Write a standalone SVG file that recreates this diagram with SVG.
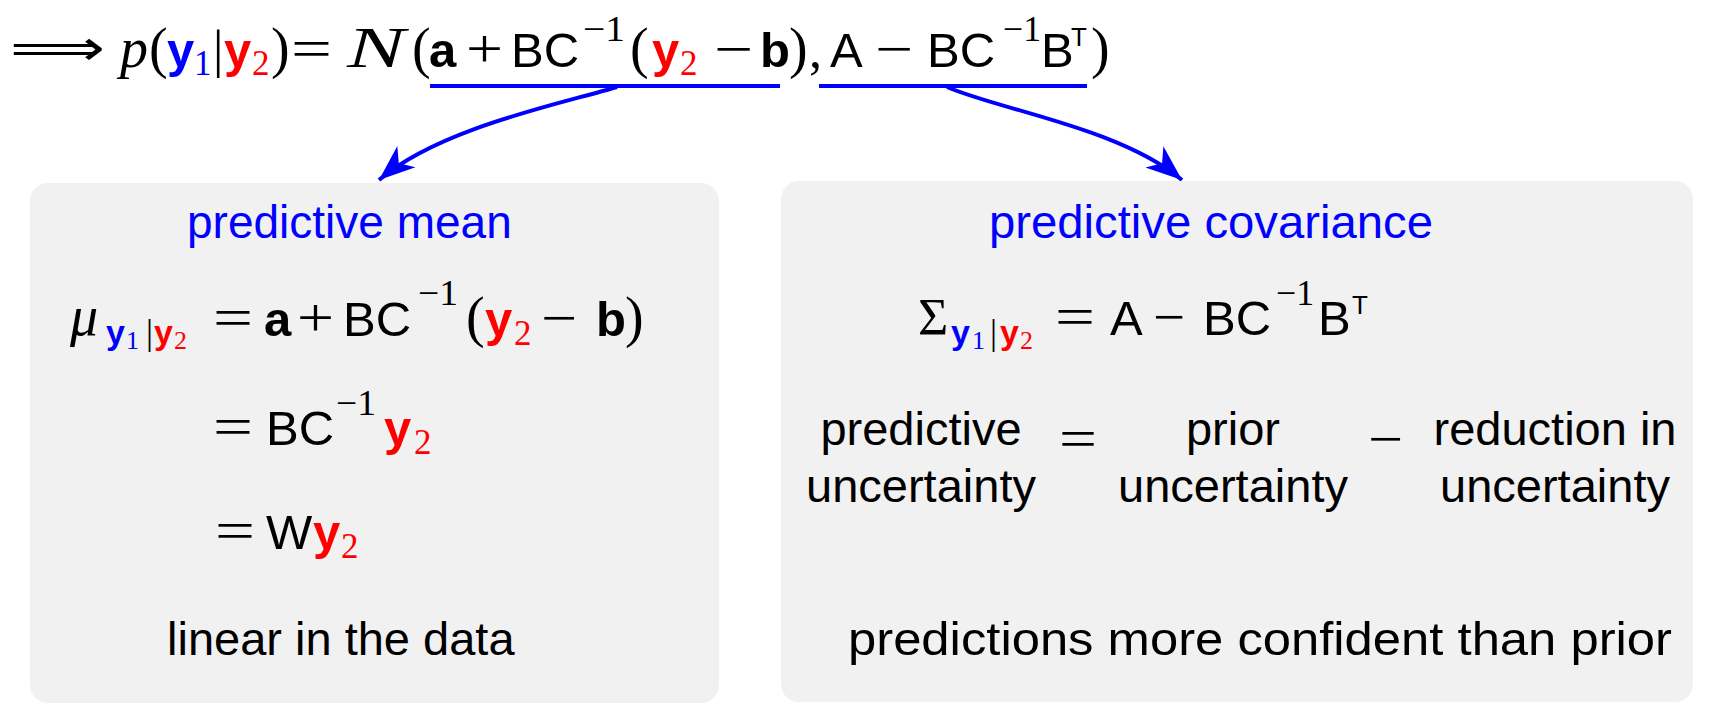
<svg xmlns="http://www.w3.org/2000/svg" width="1733" height="728" viewBox="0 0 1733 728">
<style>
.s{font-family:"Liberation Sans",Arial,sans-serif;font-size:49px;fill:#000}
.m{font-family:"Liberation Serif","DejaVu Serif",serif;font-size:52px;fill:#000}
.pa{font-family:"Liberation Serif","DejaVu Serif",serif;font-size:56px;fill:#000}
.op{font-family:"Liberation Serif","DejaVu Serif",serif;font-size:54px;fill:#000}
.ar{font-family:"DejaVu Sans",sans-serif;font-size:50px;fill:#000}
.i{font-style:italic}
.bf{font-family:"Liberation Sans",Arial,sans-serif;font-weight:bold;font-size:49px}
.sb{font-family:"Liberation Sans",Arial,sans-serif;font-weight:bold;font-size:34px}
.sd{font-family:"Liberation Serif","DejaVu Serif",serif;font-size:35px}
.ss{font-family:"Liberation Serif","DejaVu Serif",serif;font-size:26px}
.st{font-family:"Liberation Sans",Arial,sans-serif;font-size:26px}
.blue{fill:#0000ff}
.red{fill:#ff0000}
.box{fill:#f1f1f1}
.lbl{font-family:"Liberation Sans",Arial,sans-serif;font-size:46px;fill:#0000ff}
.t{font-family:"Liberation Sans",Arial,sans-serif;font-size:47px;fill:#000}
.c{text-anchor:middle}
.ln{stroke:#0000ff;stroke-width:4;fill:none}
</style>
<defs>
<marker id="ah" markerUnits="userSpaceOnUse" markerWidth="44" markerHeight="34" refX="36" refY="15" orient="auto">
<path d="M0,1 L36,15 L0,29 L10,15 Z" fill="#0000ff"/>
</marker>
</defs>

<g id="formula">
<text class="ar" x="10" y="65" textLength="95" lengthAdjust="spacingAndGlyphs">⟹</text>
<text class="m i" x="120" y="67" style="font-size:56px">p</text>
<text class="pa" x="149" y="67">(</text>
<text class="bf blue" x="167" y="67">y</text>
<text class="sd blue" x="194" y="75">1</text>
<text class="m" x="213" y="67">|</text>
<text class="bf red" x="224" y="67">y</text>
<text class="sd red" x="252" y="75">2</text>
<text class="pa" x="271" y="67">)</text>
<text class="op" x="291" y="67" textLength="41" lengthAdjust="spacingAndGlyphs">=</text>
<text class="m i" x="347" y="67" style="font-size:58px" textLength="58" lengthAdjust="spacingAndGlyphs">N</text>
<text class="pa" x="412" y="67">(</text>
<text class="bf" x="429" y="67">a</text>
<text class="op" x="466" y="67" textLength="37" lengthAdjust="spacingAndGlyphs">+</text>
<text class="s" x="511" y="67">BC</text>
<text class="sd" x="583" y="41" textLength="42" lengthAdjust="spacingAndGlyphs">−1</text>
<text class="pa" x="630" y="67">(</text>
<text class="bf red" x="652" y="67">y</text>
<text class="sd red" x="680" y="75">2</text>
<text class="op" x="714" y="67" textLength="39" lengthAdjust="spacingAndGlyphs">−</text>
<text class="bf" x="760" y="67">b</text>
<text class="pa" x="789" y="67">)</text>
<text class="m" x="809" y="67">,</text>
<text class="s" x="830" y="67">A</text>
<text class="op" x="875" y="67" textLength="38" lengthAdjust="spacingAndGlyphs">−</text>
<text class="s" x="927" y="67">BC</text>
<text class="sd" x="1003" y="41" textLength="38" lengthAdjust="spacingAndGlyphs">−1</text>
<text class="s" x="1041" y="67">B</text>
<text class="st" x="1071" y="46">T</text>
<text class="pa" x="1091" y="67">)</text>
</g>

<g id="connectors">
<line class="ln" x1="430" y1="86" x2="780" y2="86"/>
<line class="ln" x1="819" y1="86" x2="1087" y2="86"/>
<path class="ln" d="M617,87 C560,104 440,128 379,180" marker-end="url(#ah)"/>
<path class="ln" d="M947,87 C1000,110 1120,128 1182,180" marker-end="url(#ah)"/>
</g>

<g id="mean-box">
<rect class="box" x="30" y="183" width="689" height="520" rx="18"/>
<text class="lbl" x="187" y="238">predictive mean</text>
<text class="m i" x="70" y="335" style="font-size:56px">μ</text>
<text class="sb blue" x="106" y="344">y</text>
<text class="ss blue" x="126" y="349">1</text>
<text class="sd" x="146" y="344">|</text>
<text class="sb red" x="154" y="344">y</text>
<text class="ss red" x="174" y="349">2</text>
<text class="op" x="213" y="336" textLength="40" lengthAdjust="spacingAndGlyphs">=</text>
<text class="bf" x="264" y="336">a</text>
<text class="op" x="297" y="336" textLength="37" lengthAdjust="spacingAndGlyphs">+</text>
<text class="s" x="343" y="336">BC</text>
<text class="sd" x="418" y="305" textLength="40" lengthAdjust="spacingAndGlyphs">−1</text>
<text class="pa" x="466" y="336">(</text>
<text class="bf red" x="485" y="336">y</text>
<text class="sd red" x="514" y="345">2</text>
<text class="op" x="541" y="336" textLength="36" lengthAdjust="spacingAndGlyphs">−</text>
<text class="bf" x="596" y="336">b</text>
<text class="pa" x="625" y="336">)</text>

<text class="op" x="213" y="445" textLength="40" lengthAdjust="spacingAndGlyphs">=</text>
<text class="s" x="266" y="445">BC</text>
<text class="sd" x="336" y="415" textLength="40" lengthAdjust="spacingAndGlyphs">−1</text>
<text class="bf red" x="384" y="445">y</text>
<text class="sd red" x="414" y="454">2</text>

<text class="op" x="215" y="549" textLength="40" lengthAdjust="spacingAndGlyphs">=</text>
<text class="s" x="266" y="549">W</text>
<text class="bf red" x="313" y="549">y</text>
<text class="sd red" x="341" y="558">2</text>

<text class="t" x="167" y="655">linear in the data</text>
</g>

<g id="covariance-box">
<rect class="box" x="781" y="181" width="912" height="521" rx="18"/>
<text class="lbl" x="989" y="238" textLength="444" lengthAdjust="spacingAndGlyphs">predictive covariance</text>
<text class="m" x="918" y="335">Σ</text>
<text class="sb blue" x="951" y="344">y</text>
<text class="ss blue" x="972" y="349">1</text>
<text class="sd" x="990" y="344">|</text>
<text class="sb red" x="1000" y="344">y</text>
<text class="ss red" x="1020" y="349">2</text>
<text class="op" x="1055" y="335" textLength="40" lengthAdjust="spacingAndGlyphs">=</text>
<text class="s" x="1110" y="335">A</text>
<text class="op" x="1153" y="335" textLength="32" lengthAdjust="spacingAndGlyphs">−</text>
<text class="s" x="1203" y="335">BC</text>
<text class="sd" x="1276" y="305" textLength="38" lengthAdjust="spacingAndGlyphs">−1</text>
<text class="s" x="1318" y="335">B</text>
<text class="st" x="1352" y="314">T</text>

<text class="t c" x="921" y="445">predictive</text>
<text class="t c" x="921" y="502">uncertainty</text>
<text class="op" x="1059" y="457" textLength="38" lengthAdjust="spacingAndGlyphs">=</text>
<text class="t c" x="1233" y="445">prior</text>
<text class="t c" x="1233" y="502">uncertainty</text>
<text class="op" x="1368" y="457" textLength="35" lengthAdjust="spacingAndGlyphs">−</text>
<text class="t c" x="1555" y="445">reduction in</text>
<text class="t c" x="1555" y="502">uncertainty</text>

<text class="t" x="848" y="655" textLength="824" lengthAdjust="spacingAndGlyphs">predictions more confident than prior</text>
</g>
</svg>
